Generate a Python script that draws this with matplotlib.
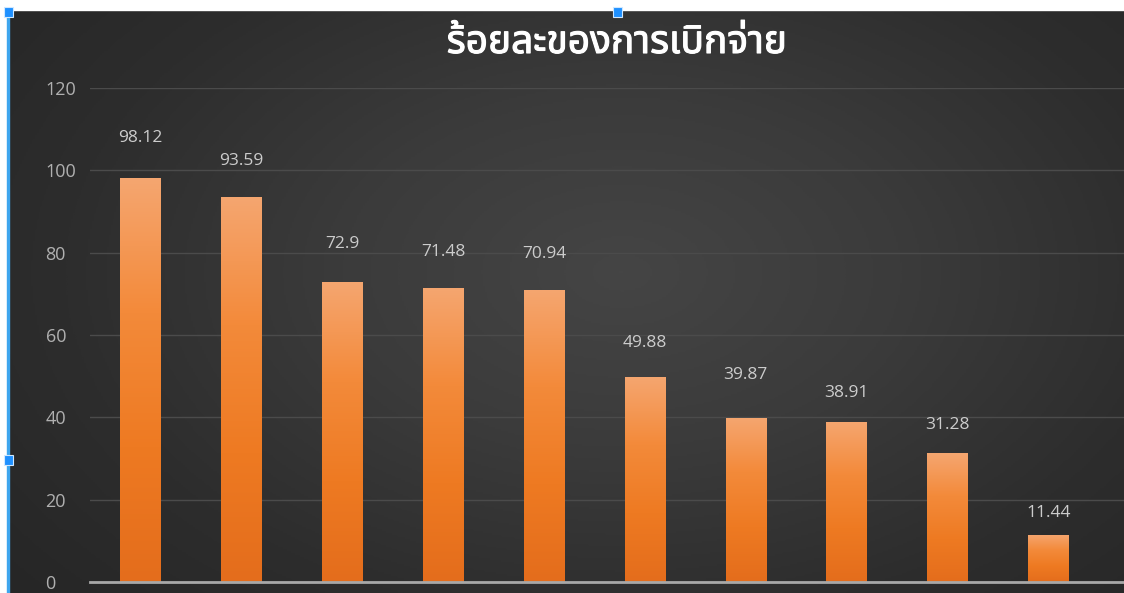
import numpy as np
import matplotlib
matplotlib.use("Agg")
import matplotlib.pyplot as plt
import matplotlib.patheffects as pe
from matplotlib.colors import LinearSegmentedColormap
from matplotlib.patches import Rectangle

# data
categories = ["1", "2", "3", "4", "5", "6", "7", "8", "9", "10"]
values = [98.12, 93.59, 72.9, 71.48, 70.94, 49.88, 39.87, 38.91, 31.28, 11.44]
label_texts = ["98.12", "93.59", "72.9", "71.48", "70.94", "49.88", "39.87", "38.91", "31.28", "11.44"]
y_ticks = [0, 20, 40, 60, 80, 100, 120]
title = "ร้อยละของการเบิกจ่าย"

# label offsets above bar tops (points), as placed in the original
label_offsets = [29, 26, 27, 26, 26, 24, 31, 21, 20, 16]

W, H = 1124, 593
fig = plt.figure(figsize=(W / 100, H / 100), dpi=100)
fig.patch.set_facecolor("white")

# dark chart background with a soft radial gradient
bg = fig.add_axes([9 / W, 0, 1 - 9 / W, (H - 10) / H], zorder=0)
yy, xx = np.mgrid[0:1:300j, 0:1:600j]
r = np.sqrt(((xx - 0.55) / 0.75) ** 2 + ((yy - 0.45) / 0.9) ** 2)
bg_cmap = LinearSegmentedColormap.from_list("bg", ["#454545", "#3b3b3b", "#2d2d2d", "#252525"])
bg.imshow(r, cmap=bg_cmap, vmin=0, vmax=1.0, aspect="auto", extent=(0, 1, 0, 1), origin="upper")
bg.set_axis_off()

ax = fig.add_axes([90 / W, (H - 582) / H, (W - 90) / W, (582 - 88) / H], zorder=1)
ax.set_facecolor("none")

x = np.arange(len(categories))
bars = ax.bar(x, values, width=0.4, color="#f08a3c", zorder=2)

bar_cmap = LinearSegmentedColormap.from_list("bar", ["#f5a670", "#f38a3a", "#ee7a22", "#e46d1c"])
grad = np.linspace(0, 1, 256).reshape(-1, 1)
for b in bars:
    bx, by = b.get_x(), b.get_y()
    im = ax.imshow(grad, cmap=bar_cmap, aspect="auto", zorder=3,
                   extent=(bx, bx + b.get_width(), by, by + b.get_height()), origin="upper")
    im.set_clip_path(b)

for xi, v, t, off in zip(x, values, label_texts, label_offsets):
    ax.annotate(t, (xi, v), xytext=(0, off), textcoords="offset points",
                ha="center", va="center", color="#cccccc", fontsize=12.5,
                family=["Open Sans", "DejaVu Sans"], annotation_clip=False)

ax.set_xlim(-0.5, 9.75)
ax.set_ylim(0, 120)
ax.set_yticks(y_ticks)
ax.set_xticks([])
ax.yaxis.grid(True, color="#4b4b4b", linewidth=1.0, zorder=0)
ax.set_axisbelow(True)
for s in ["top", "right", "left"]:
    ax.spines[s].set_visible(False)
ax.spines["bottom"].set_color("#a8a8a8")
ax.spines["bottom"].set_linewidth(2)
ax.spines["bottom"].set_zorder(4)
ax.tick_params(axis="y", length=0, pad=32, labelcolor="#b0b0b0", labelsize=13)
for lab in ax.get_yticklabels():
    lab.set_horizontalalignment("left")
    lab.set_family(["Open Sans", "DejaVu Sans"])

fig.text(617 / W, 1 - 43 / H, title, ha="center", va="center", color="white",
         fontsize=28, fontweight="bold", family=["Noto Sans Thai", "DejaVu Sans"],
         path_effects=[pe.withStroke(linewidth=0.8, foreground="white")])

# selection frame remnants on the left and top
fig.add_artist(Rectangle((0, 0), 7 / W, 1, transform=fig.transFigure, color="white", zorder=5))
fig.add_artist(Rectangle((7 / W, 0), 1.5 / W, 1 - 10 / H, transform=fig.transFigure,
                         color="#3ea6ee", zorder=6))
fig.add_artist(Rectangle((0, 1 - 10 / H), 1, 10 / H, transform=fig.transFigure, color="white", zorder=5))
for hx, hy in [(8, 12), (617, 12), (8, 460)]:
    fig.add_artist(Rectangle(((hx - 4) / W, 1 - (hy + 5) / H), 9 / W, 10 / H, transform=fig.transFigure,
                             facecolor="#1e90ff", edgecolor="#cfe8ff", linewidth=0.8, zorder=7))

fig.savefig("out.png", dpi=100)
